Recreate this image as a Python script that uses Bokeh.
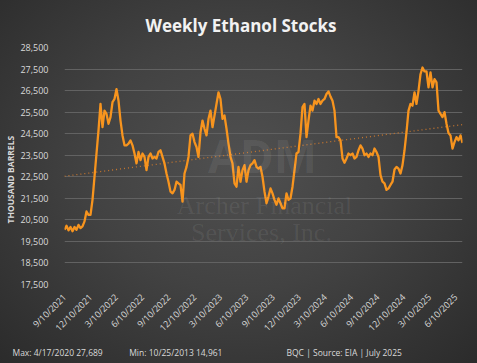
import numpy as np
import pandas as pd
from math import pi
from bokeh.plotting import figure
from bokeh.models import Range1d, FixedTicker, NumeralTickFormatter, Label, Title
from bokeh.embed import file_html
from bokeh.resources import INLINE

# ---------------- data ----------------
start_date = "2021-09-10"   # weekly (Friday) observations
stocks = [
    20040, 20230, 20010, 20170, 19970, 20170, 20040, 20270, 20120, 20200, 20430, 20890, 20730, 20730, 21430, 22500,
    23580, 24650, 25880, 24800, 25570, 25420, 24960, 25270, 25960, 26110, 26570, 26030, 25110, 24420, 23960, 23960,
    24040, 24190, 23960, 23580, 23120, 23650, 23270, 23580, 23420, 22810, 23420, 23580, 23350, 23420, 23350, 23650,
    23730, 23420, 23120, 22650, 22270, 21810, 21730, 21890, 22270, 22190, 22120, 21350, 22650, 22960, 23420, 24420, 24500,
    24110, 23880, 23420, 24570, 25110, 24730, 24420, 25190, 25570, 24800, 25340, 25880, 26420, 26110, 25190, 25340,
    24730, 24040, 23420, 23120, 22190, 22040, 22960, 22270, 22810, 23040, 22270, 22810, 23040, 23120, 23270, 22960, 22880,
    22960, 22500, 21810, 21270, 21580, 21960, 21730, 21430, 21200, 21500, 21270, 21040, 21040, 21730, 21430, 21500,
    22040, 22810, 23580, 23650, 24500, 25730, 25880, 24340, 25110, 25800, 25570, 26030, 25880, 26110, 25880, 26030, 26110,
    26340, 26460, 26220, 26030, 25570, 24340, 24340, 24190, 23350, 23150, 23350, 23580, 23500, 23580, 23350, 23420,
    23730, 23960, 23810, 23500, 23580, 23420, 23580, 23500, 23810, 23650, 23420, 22580, 22270, 22190, 21890, 21960, 22120,
    22270, 22840, 22960, 22880, 22650, 23040, 23730, 24570, 25570, 25880, 25800, 26420, 25880, 26490, 27260, 27570,
    27390, 27390, 26650, 27340, 26650, 27030, 26880, 25570, 25420, 25270, 25500, 24960, 24530, 24420, 23810, 24110,
    24340, 24190, 24420, 24070,
]
x_tick_labels = ["9/10/2021", "12/10/2021", "3/10/2022", "6/10/2022", "9/10/2022", "12/10/2022",
                 "3/10/2023", "6/10/2023", "9/10/2023", "12/10/2023", "3/10/2024", "6/10/2024",
                 "9/10/2024", "12/10/2024", "3/10/2025", "6/10/2025"]
y_ticks = [17500, 18500, 19500, 20500, 21500, 22500, 23500, 24500, 25500, 26500, 27500, 28500]
title_text = "Weekly Ethanol Stocks"
y_label = "THOUSAND BARRELS"
footer_max = "Max: 4/17/2020 27,689"
footer_min = "Min: 10/25/2013 14,961"
footer_src = "BQC | Source: EIA | July 2025"

# ---------------- derived ----------------
dates = pd.date_range(start=start_date, periods=len(stocks), freq="7D")
tick_ms = [pd.Timestamp(pd.to_datetime(t, format="%m/%d/%Y")).value / 1e6 for t in x_tick_labels]
idx = np.arange(len(stocks))
slope, intercept = np.polyfit(idx, np.array(stocks, dtype=float), 1)
trend = intercept + slope * idx
NB = "\u00a0"
footer_line = footer_max + NB * 12 + footer_min + NB * 29 + footer_src

TXT = "#d9d9d9"
FONT = "Open Sans"

p = figure(width=477, height=363, x_axis_type="datetime", output_backend="svg",
           toolbar_location=None,
           x_range=Range1d(dates[0], dates[-1]), y_range=Range1d(17500, 28500),
           min_border_left=62, min_border_right=15, min_border_top=45, min_border_bottom=79)
p.background_fill_alpha = 0
p.border_fill_alpha = 0
p.outline_line_color = None
p.styles = {"background": "radial-gradient(ellipse at 50% 45%, #505050 0%, #424242 45%, #2b2b2b 100%)"}

p.title.text = title_text
p.title.align = "left"
p.title.offset = 81
p.title.text_font = FONT
p.title.text_font_style = "bold"
p.title.text_font_size = "17px"
p.title.text_color = "#f2f2f2"
p.title.standoff = 22

p.add_layout(Title(text=y_label, align="left", offset=61, text_font=FONT, text_font_style="bold",
                   text_font_size="8.5px", text_color=TXT, standoff=4), "left")

p.add_layout(Title(text=footer_line, align="left", offset=-52, text_font=FONT, text_font_style="normal",
                   text_font_size="8.5px", text_color=TXT, standoff=7), "below")

# grid
p.xgrid.grid_line_color = None
p.ygrid.grid_line_color = "#626262"
p.ygrid.grid_line_width = 1

# axes
p.yaxis.ticker = FixedTicker(ticks=y_ticks)
p.yaxis.formatter = NumeralTickFormatter(format="0,0")
p.xaxis.ticker = FixedTicker(ticks=tick_ms)
p.xaxis.major_label_overrides = {float(m): lab for m, lab in zip(tick_ms, x_tick_labels)}
p.xaxis.major_label_orientation = pi / 4
for ax in (p.xaxis, p.yaxis):
    ax.axis_line_color = None
    ax.major_tick_line_color = None
    ax.minor_tick_line_color = None
    ax.major_label_text_color = TXT
    ax.major_label_text_font = FONT
    ax.major_label_text_font_size = "9px"
p.yaxis.major_label_standoff = 10
p.xaxis.major_label_standoff = 5

# trend + series
p.line(dates, trend, line_color="#c8772e", line_width=1.3, line_dash="1 3")
p.line(dates, stocks, line_color="#f7941e", line_width=2.3, line_join="round")

# watermark
wm = dict(x_units="screen", y_units="screen", text_align="center", text_baseline="middle",
          text_color="white", text_alpha=0.07)
p.add_layout(Label(x=198, y=130, text="ADM", text_font=FONT, text_font_style="bold",
                   text_font_size="46px", **wm))
p.add_layout(Label(x=200, y=79, text="Archer Financial", text_font="Liberation Serif",
                   text_font_size="26px", **wm))
p.add_layout(Label(x=197, y=52, text="Services, Inc.", text_font="Liberation Serif",
                   text_font_size="26px", **wm))

open("out.html", "w").write(file_html(p, INLINE))
